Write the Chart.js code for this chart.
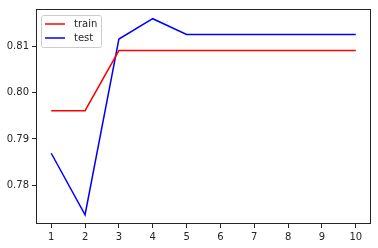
<!DOCTYPE html>
<html>
<head>
<meta charset="utf-8">
<script src="https://cdn.jsdelivr.net/npm/chart.js@4"></script>
<style>
  html, body { margin: 0; padding: 0; background: #fff; }
  #wrap { width: 378px; height: 248px; }
</style>
</head>
<body>
<div id="wrap"><canvas id="lossChart" width="378" height="248"></canvas></div>
<script>
const epochs = [1, 2, 3, 4, 5, 6, 7, 8, 9, 10];
const trainScores = [0.7961, 0.7961, 0.8091, 0.8091, 0.8091, 0.8091, 0.8091, 0.8091, 0.8091, 0.8091];
const testScores = [0.7869, 0.7736, 0.8116, 0.8160, 0.8126, 0.8126, 0.8126, 0.8126, 0.8126, 0.8126];
const yTicks = [0.78, 0.79, 0.80, 0.81];

const ctx = document.getElementById('lossChart').getContext('2d');
const font = { family: 'DejaVu Sans', size: 10 };
const ink = '#262626';

// matplotlib-like frame and legend box
const framePlugin = {
  id: 'frame',
  afterDraw(chart) {
    const { ctx, chartArea: a } = chart;
    ctx.save();
    ctx.strokeStyle = ink;
    ctx.lineWidth = 1;
    ctx.strokeRect(Math.round(a.left) + 0.5, Math.round(a.top) + 0.5,
      Math.round(a.right - a.left) - 1, Math.round(a.bottom - a.top) - 1);

    const x0 = a.left + 5, y0 = a.top + 6;
    const w = 60, h = 32;
    ctx.fillStyle = 'rgba(255,255,255,0.8)';
    ctx.strokeStyle = '#cccccc';
    ctx.beginPath();
    ctx.roundRect(x0 + 0.5, y0 + 0.5, w, h, 2);
    ctx.fill();
    ctx.stroke();
    ctx.font = '10px "DejaVu Sans"';
    ctx.textBaseline = 'middle';
    chart.data.datasets.forEach((ds, i) => {
      const ly = y0 + 9 + i * 14;
      ctx.strokeStyle = ds.borderColor;
      ctx.lineWidth = 1.5;
      ctx.beginPath();
      ctx.moveTo(x0 + 4, ly);
      ctx.lineTo(x0 + 24, ly);
      ctx.stroke();
      ctx.fillStyle = ink;
      ctx.fillText(ds.label, x0 + 33, ly);
    });
    ctx.restore();
  }
};

new Chart(ctx, {
  type: 'line',
  data: {
    datasets: [{
      label: 'train',
      data: epochs.map((e, i) => ({ x: e, y: trainScores[i] })),
      borderColor: '#ff0000',
      borderWidth: 1.5,
      pointRadius: 0,
      tension: 0
    }, {
      label: 'test',
      data: epochs.map((e, i) => ({ x: e, y: testScores[i] })),
      borderColor: '#0000ff',
      borderWidth: 1.5,
      pointRadius: 0,
      tension: 0
    }]
  },
  options: {
    responsive: false,
    animation: false,
    events: [],
    layout: { padding: { left: 0, right: 7, top: 6, bottom: 0 } },
    plugins: {
      legend: { display: false },
      tooltip: { enabled: false }
    },
    scales: {
      x: {
        type: 'linear',
        min: 0.55,
        max: 10.45,
        afterBuildTicks: axis => { axis.ticks = epochs.map(v => ({ value: v })); },
        afterFit: axis => { axis.height = 24; },
        ticks: { color: ink, font, padding: 3, maxRotation: 0, autoSkip: false },
        grid: { drawOnChartArea: false, drawTicks: true, tickLength: 4, color: ink },
        border: { display: false }
      },
      y: {
        min: 0.7716,
        max: 0.8181,
        afterBuildTicks: axis => { axis.ticks = yTicks.map(v => ({ value: v })); },
        afterFit: axis => { axis.width = 36; },
        ticks: { color: ink, font, padding: 3, callback: v => v.toFixed(2) },
        grid: { drawOnChartArea: false, drawTicks: true, tickLength: 4, color: ink },
        border: { display: false }
      }
    }
  },
  plugins: [framePlugin]
});
</script>
</body>
</html>
